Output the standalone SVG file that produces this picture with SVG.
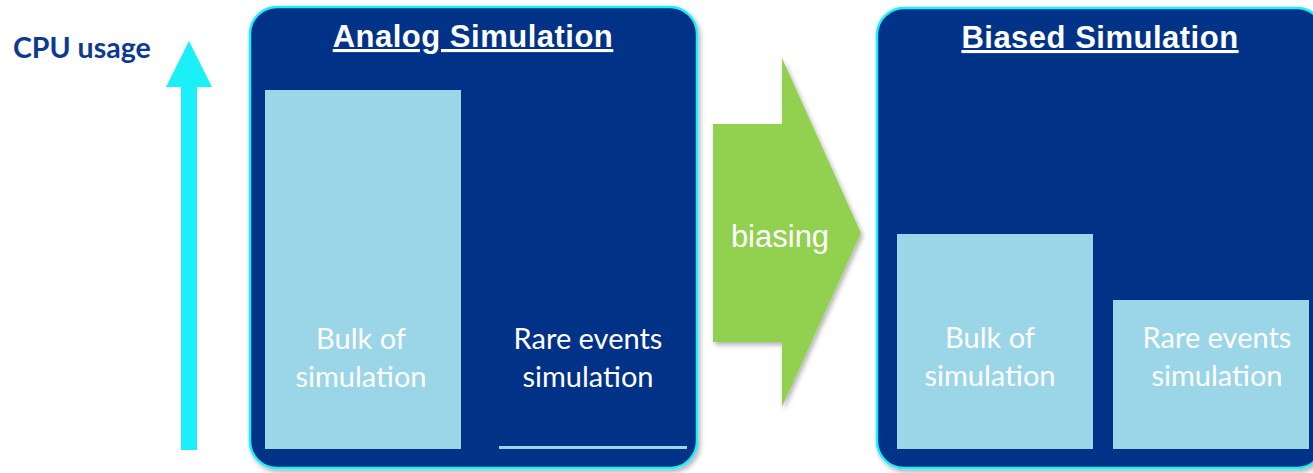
<svg xmlns="http://www.w3.org/2000/svg" width="1313" height="473" viewBox="0 0 1313 473">
  <style>
    .panel { fill: #003087; stroke: #1deff7; stroke-width: 2.5; }
    .bar { fill: #9bd5e8; }
    .title { font-family: "Liberation Sans", Arial, sans-serif; font-weight: bold; font-size: 31px; letter-spacing: 0.5px; fill: #ffffff; text-anchor: middle; text-decoration: underline; }
    .label { font-family: Lato, "Open Sans", sans-serif; font-size: 29px; fill: #ffffff; text-anchor: middle; }
    .axis { font-family: Lato, "Open Sans", sans-serif; font-weight: bold; font-size: 28.5px; fill: #0b3a8e; }
    .step { font-family: "Liberation Sans", Arial, sans-serif; font-size: 31px; fill: #ffffff; text-anchor: middle; }
  </style>
  <defs>
    <filter id="shadow" x="-10%" y="-10%" width="125%" height="125%">
      <feDropShadow dx="2" dy="3" stdDeviation="2.5" flood-color="#000000" flood-opacity="0.3"/>
    </filter>
  </defs>

  <rect width="1313" height="473" fill="#ffffff"/>

  <!-- vertical axis: CPU usage -->
  <g id="cpu-axis">
    <text class="axis" x="13" y="58">CPU usage</text>
    <polygon points="189,41 212,87 197,87 197,450 181,450 181,87 166,87" fill="#1bf0f8"/>
  </g>

  <!-- left panel: analog run -->
  <g id="analog">
    <rect class="panel" x="250" y="7" width="447" height="461" rx="27" filter="url(#shadow)"/>
    <text class="title" x="473" y="47">Analog Simulation</text>
    <rect class="bar" x="265" y="90" width="196" height="359"/>
    <text class="label" x="361" y="349">Bulk of</text>
    <text class="label" x="361" y="387">simulation</text>
    <rect class="bar" x="499" y="446" width="188" height="3"/>
    <text class="label" x="588" y="349">Rare events</text>
    <text class="label" x="588" y="387">simulation</text>
  </g>

  <!-- transition arrow -->
  <g id="biasing">
    <polygon points="713,124 782,124 782,58 861,233 782,407 782,342 713,342" fill="#92d050" filter="url(#shadow)"/>
    <text class="step" x="780" y="247">biasing</text>
  </g>

  <!-- right panel: biased run -->
  <g id="biased">
    <rect class="panel" x="877" y="8" width="447" height="460" rx="27" filter="url(#shadow)"/>
    <text class="title" x="1100" y="48">Biased Simulation</text>
    <rect class="bar" x="897" y="234" width="196" height="215"/>
    <text class="label" x="990" y="348">Bulk of</text>
    <text class="label" x="990" y="386">simulation</text>
    <rect class="bar" x="1113" y="300" width="196" height="149"/>
    <text class="label" x="1217" y="348">Rare events</text>
    <text class="label" x="1217" y="386">simulation</text>
  </g>

  <g id="connectors"/>
</svg>
